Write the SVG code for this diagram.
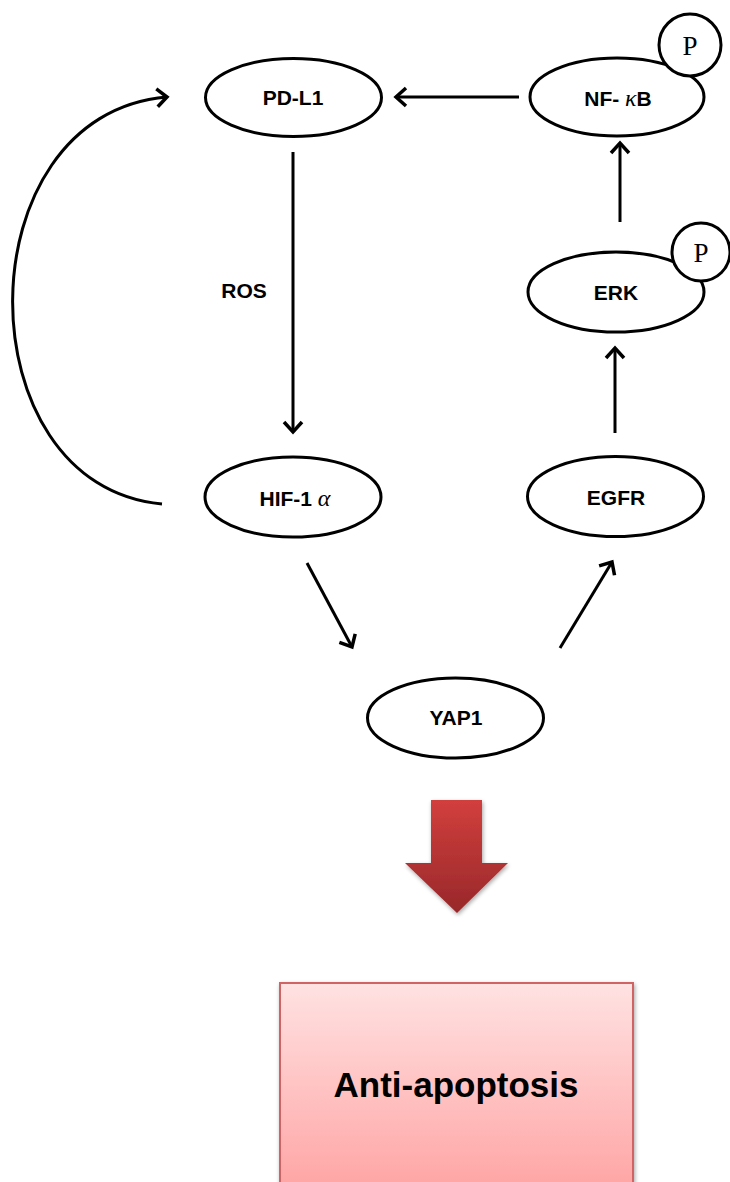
<svg xmlns="http://www.w3.org/2000/svg" width="730" height="1182" viewBox="0 0 730 1182">
<style>
.node{fill:#fff;stroke:#000;stroke-width:3}
.lbl{font-family:"Liberation Sans",Arial,sans-serif;font-weight:bold;font-size:21px;fill:#000;text-anchor:middle}
.gk{font-family:"Liberation Serif","DejaVu Serif",serif;font-style:italic;font-weight:normal;font-size:24px}
.p{font-family:"Liberation Serif",serif;font-size:27px;fill:#000;text-anchor:middle}
.con{fill:none;stroke:#000;stroke-width:3}
</style>
<defs>
<marker id="ah" markerUnits="userSpaceOnUse" markerWidth="24" markerHeight="24" refX="12" refY="12" orient="auto" viewBox="0 0 24 24">
<path d="M2,3 L12,12 L2,21" fill="none" stroke="#000" stroke-width="3.5" stroke-linejoin="miter"/>
</marker>
<linearGradient id="redArrow" x1="0" y1="0" x2="0" y2="1">
<stop offset="0" stop-color="#d23f3d"/>
<stop offset="1" stop-color="#98282a"/>
</linearGradient>
<linearGradient id="boxFill" x1="0" y1="0" x2="0" y2="1">
<stop offset="0" stop-color="#ffe2e2"/>
<stop offset="1" stop-color="#ffa2a2"/>
</linearGradient>
<filter id="sh" x="-20%" y="-20%" width="140%" height="140%">
<feGaussianBlur in="SourceAlpha" stdDeviation="2"/>
<feOffset dx="1" dy="2" result="b"/>
<feComponentTransfer><feFuncA type="linear" slope="0.35"/></feComponentTransfer>
<feMerge><feMergeNode/><feMergeNode in="SourceGraphic"/></feMerge>
</filter>
</defs>

<g id="connectors">
<line class="con" x1="519" y1="97" x2="396" y2="97" marker-end="url(#ah)"/>
<line class="con" x1="293" y1="152" x2="293" y2="432" marker-end="url(#ah)"/>
<line class="con" x1="620" y1="222" x2="620" y2="143" marker-end="url(#ah)"/>
<line class="con" x1="615" y1="433" x2="615" y2="348" marker-end="url(#ah)"/>
<line class="con" x1="307" y1="563" x2="352" y2="647" marker-end="url(#ah)"/>
<line class="con" x1="560" y1="648" x2="612" y2="562" marker-end="url(#ah)"/>
<path class="con" stroke-width="3.5" d="M162,504 C-38,486 -38,114 167,97" marker-end="url(#ah)"/>
</g>

<text class="lbl" x="244" y="298">ROS</text>

<g id="pdl1">
<ellipse class="node" cx="293.5" cy="97.5" rx="88" ry="39"/>
<text class="lbl" x="293" y="105">PD-L1</text>
</g>

<g id="nfkb">
<ellipse class="node" cx="617" cy="97" rx="87" ry="39"/>
<circle class="node" cx="690" cy="45" r="31"/>
<text class="p" x="690" y="55">P</text>
<text class="lbl" x="618" y="106">NF- <tspan class="gk">κ</tspan>B</text>
</g>

<g id="erk">
<ellipse class="node" cx="616" cy="292" rx="88" ry="40"/>
<circle class="node" cx="701" cy="252" r="29"/>
<text class="p" x="701" y="262">P</text>
<text class="lbl" x="616" y="300">ERK</text>
</g>

<g id="hif1a">
<ellipse class="node" cx="293" cy="497" rx="88" ry="40"/>
<text class="lbl" x="295" y="506">HIF-1 <tspan class="gk">α</tspan></text>
</g>

<g id="egfr">
<ellipse class="node" cx="615.5" cy="496.5" rx="88" ry="40"/>
<text class="lbl" x="616" y="505">EGFR</text>
</g>

<g id="yap1">
<ellipse class="node" cx="455.5" cy="718" rx="88" ry="40"/>
<text class="lbl" x="456" y="725">YAP1</text>
</g>

<g id="bigArrow">
<path d="M431,800 L482,800 L482,863 L508,863 L457,913 L405,863 L431,863 Z" fill="url(#redArrow)" filter="url(#sh)"/>
</g>

<g id="antiApoptosis">
<rect x="280" y="983" width="353" height="215" fill="url(#boxFill)" stroke="#d06464" stroke-width="2" filter="url(#sh)"/>
<text class="lbl" x="456" y="1097" style="font-size:35px">Anti-apoptosis</text>
</g>
</svg>
